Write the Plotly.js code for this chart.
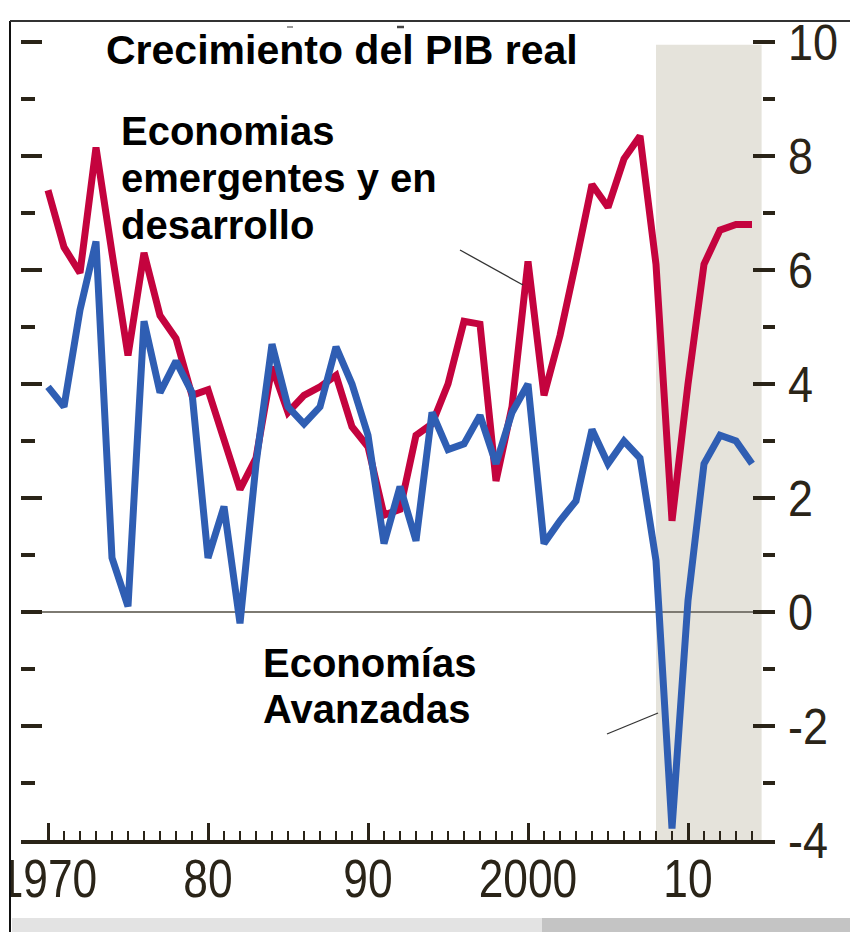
<!DOCTYPE html>
<html>
<head>
<meta charset="utf-8">
<script src="https://cdn.plot.ly/plotly-3.0.1.min.js"></script>
<style>html,body{margin:0;padding:0;background:#fff;}#chart{width:850px;height:932px;}</style>
</head>
<body>
<div id="chart"></div>
<script>
// ---- data ----
const years = [1970,1971,1972,1973,1974,1975,1976,1977,1978,1979,
               1980,1981,1982,1983,1984,1985,1986,1987,1988,1989,
               1990,1991,1992,1993,1994,1995,1996,1997,1998,1999,
               2000,2001,2002,2003,2004,2005,2006,2007,2008,2009,
               2010,2011,2012,2013,2014];
const emergentes = [7.4,6.4,5.95,8.15,6.3,4.5,6.3,5.2,4.8,3.8,
                    3.9,3.0,2.15,2.7,4.3,3.5,3.8,3.95,4.15,3.25,
                    2.9,1.7,1.8,3.1,3.3,4.0,5.1,5.05,2.3,3.6,
                    6.15,3.8,4.85,6.15,7.5,7.1,7.95,8.35,6.1,1.6,
                    4.0,6.1,6.7,6.8,6.8];
const avanzadas = [3.95,3.6,5.3,6.5,0.95,0.1,5.1,3.85,4.4,3.85,
                   0.95,1.85,-0.2,2.6,4.7,3.6,3.3,3.6,4.65,4.0,
                   3.1,1.2,2.2,1.25,3.5,2.85,2.95,3.45,2.6,3.5,
                   4.0,1.2,1.6,1.95,3.2,2.6,3.0,2.7,0.9,-3.8,
                   0.2,2.6,3.1,3.0,2.6];
const xTickVals = [1970,1975,1980,1985,1990,1995,2000,2005,2010];
const xTickText = ['1970','','80','','90','','2000','','10'];
const yTickVals = [-4,-2,0,2,4,6,8,10];
const yTickText = ['-4','-2','0','2','4','6','8','10'];
const yMinorVals = [-3,-1,1,3,5,7,9];
const shadeStart = 2008, shadeEnd = 2014.6;
const titleText = 'Crecimiento del PIB real';
const labelEmergentes = ['Economias','emergentes y en','desarrollo'];
const labelAvanzadas = ['Economías','Avanzadas'];

// ---- layout geometry (pixels) ----
const W = 850, H = 932;
const L = 21, R = 775, T = 0, B = 840;
const px = x => (x - L) / (R - L);
const py = y => (B - y) / (B - T);
const yTop = (612 - T) / 57;

const dark = '#2a2418';
const red = '#c4033e';
const blue = '#2f5eb3';
const numF = '"Liberation Sans", Arial, sans-serif';
const boldF = '"Liberation Sans", Arial, sans-serif';

const traces = [
  {x: years, y: emergentes, mode: 'lines', line: {color: red, width: 7}, hoverinfo: 'skip', xaxis: 'x', yaxis: 'y'},
  {x: years, y: avanzadas, mode: 'lines', line: {color: blue, width: 7}, hoverinfo: 'skip', xaxis: 'x', yaxis: 'y2'}
];

const annotations = [];
function label(text, x, y, size) {
  annotations.push({xref: 'paper', yref: 'paper', x: px(x), y: py(y), xanchor: 'left', yanchor: 'middle',
    text: '<b>' + text + '</b>', showarrow: false, font: {family: boldF, size: size, color: '#000'}});
}
label(titleText, 104, 50, 41);
labelEmergentes.forEach((t, i) => label(t, 119, 131 + i * 47, 40));
labelAvanzadas.forEach((t, i) => label(t, 261, 663 + i * 46, 40));

function pline(x0, y0, x1, y1, color, width) {
  return {type: 'line', xref: 'paper', yref: 'paper', x0: px(x0), y0: py(y0), x1: px(x1), y1: py(y1),
          line: {color: color, width: width}, layer: 'above'};
}
function prect(x0, y0, x1, y1, color) {
  return {type: 'rect', xref: 'paper', yref: 'paper', x0: px(x0), y0: py(y0), x1: px(x1), y1: py(y1),
          fillcolor: color, line: {width: 0}, layer: 'above'};
}

const shapes = [
  {type: 'rect', xref: 'x', yref: 'y', x0: shadeStart, x1: shadeEnd, y0: -4, y1: 9.95,
   fillcolor: '#e5e3db', line: {width: 0}, layer: 'below'},
  pline(460, 250, 523, 285, '#333', 1.3),
  pline(607, 734, 658, 713, '#333', 1.3),
  // screenshot frame
  prect(0, 846, 10, 932, '#ffffff'),
  pline(10, 21, 10, 932, '#111', 2),
  pline(10, 21, 850, 21, '#333', 2),
  prect(12, 918, 542, 932, '#e3e3e3'),
  prect(542, 918, 850, 932, '#c4c4c4'),
  pline(287, 27, 293, 27, '#999', 2),
  pline(397, 27, 404, 27, '#444', 2.5)
];

const layout = {
  width: W, height: H,
  margin: {l: L, r: W - R, t: T, b: H - B, pad: 0},
  paper_bgcolor: '#fff', plot_bgcolor: 'rgba(0,0,0,0)',
  showlegend: false,
  xaxis: {
    range: [1970 + (L - 48) / 16, 1970 + (R - 48) / 16],
    showgrid: false, zeroline: false,
    showline: true, linecolor: dark, linewidth: 4,
    tickmode: 'array', tickvals: xTickVals, ticktext: xTickText,
    ticks: 'inside', ticklen: 17, tickwidth: 3, tickcolor: dark,
    minor: {tickmode: 'array', tickvals: years, ticks: 'inside', ticklen: 9, tickwidth: 2.5, tickcolor: dark, showgrid: false},
    ticklabelstandoff: -12,
    ticklabeloverflow: 'allow',
    tickfont: {family: numF, size: 54, color: dark},
    fixedrange: true
  },
  yaxis: {
    range: [-4, yTop],
    showgrid: false, showline: false,
    zeroline: true, zerolinecolor: '#7d7a72', zerolinewidth: 1.5,
    tickmode: 'array', tickvals: yTickVals, ticks: 'inside', ticklen: 21, tickwidth: 4, tickcolor: dark,
    minor: {tickmode: 'array', tickvals: yMinorVals, ticks: 'inside', ticklen: 14, tickwidth: 4, tickcolor: dark, showgrid: false},
    showticklabels: false, fixedrange: true
  },
  yaxis2: {
    overlaying: 'y', side: 'right', anchor: 'x',
    range: [-4, yTop],
    showgrid: false, showline: false, zeroline: false,
    tickmode: 'array', tickvals: yTickVals, ticktext: yTickText,
    ticks: 'inside', ticklen: 22, tickwidth: 4, tickcolor: dark,
    minor: {tickmode: 'array', tickvals: yMinorVals, ticks: 'inside', ticklen: 12, tickwidth: 4, tickcolor: dark, showgrid: false},
    ticklabelstandoff: 12,
    ticklabeloverflow: 'allow',
    tickfont: {family: numF, size: 50, color: dark},
    fixedrange: true
  },
  shapes: shapes,
  annotations: annotations
};

function condense(selector, factor) {
  document.querySelectorAll(selector).forEach(t => {
    const len = t.getComputedTextLength();
    if (len > 0) {
      t.setAttribute('textLength', (len * factor).toFixed(1));
      t.setAttribute('lengthAdjust', 'spacingAndGlyphs');
    }
  });
}

Plotly.newPlot('chart', traces, layout, {displayModeBar: false, staticPlot: true}).then(() => {
  condense('#chart .xtick text', 0.82);
  condense('#chart .y2tick text', 0.9);
});
</script>
</body>
</html>
